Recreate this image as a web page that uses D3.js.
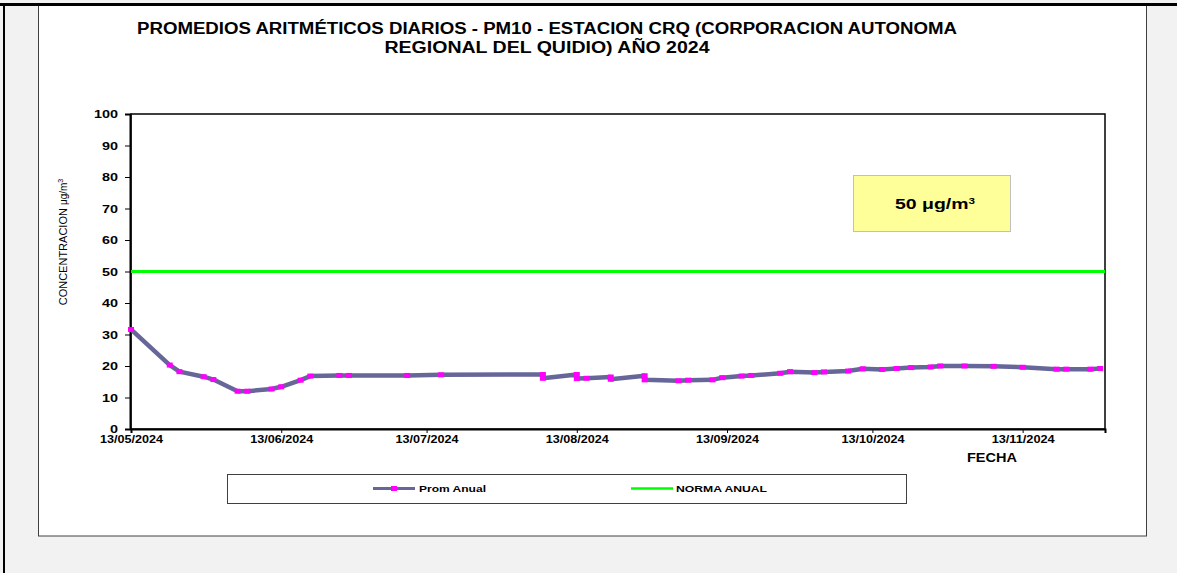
<!DOCTYPE html>
<html>
<head>
<meta charset="utf-8">
<script src="https://cdn.jsdelivr.net/npm/d3@7"></script>
<style>
  html, body { margin: 0; padding: 0; background: #f2f2f2; }
  svg { display: block; }
  text { font-family: "Liberation Sans", Arial, sans-serif; }
</style>
</head>
<body>
<svg id="chart" width="1177" height="573"></svg>
<script>
// ---------------- DATA ----------------
const titleLines = [
  "PROMEDIOS ARITMÉTICOS DIARIOS - PM10 -  ESTACION CRQ (CORPORACION AUTONOMA",
  "REGIONAL DEL QUIDIO) AÑO 2024"
];
const sampleDates = [
  "2024-05-13","2024-05-21","2024-05-23","2024-05-28","2024-05-30",
  "2024-06-04","2024-06-06","2024-06-11","2024-06-13","2024-06-17",
  "2024-06-19","2024-06-25","2024-06-27","2024-07-09","2024-07-16",
  "2024-08-06","2024-08-06","2024-08-13","2024-08-13","2024-08-15",
  "2024-08-20","2024-08-20","2024-08-27","2024-08-27","2024-09-03",
  "2024-09-05","2024-09-10","2024-09-12","2024-09-16","2024-09-18",
  "2024-09-24","2024-09-26","2024-10-01","2024-10-03","2024-10-08",
  "2024-10-11","2024-10-15","2024-10-18","2024-10-21","2024-10-25",
  "2024-10-27","2024-11-01","2024-11-07","2024-11-13","2024-11-20",
  "2024-11-22","2024-11-27","2024-11-29"
];
const promAnual = [
  31.6, 20.3, 18.2, 16.6, 15.7,
  12.0, 12.0, 12.7, 13.4, 15.5,
  16.8, 17.0, 17.0, 17.0, 17.2,
  17.3, 16.1, 17.3, 16.0, 16.1,
  16.5, 15.8, 16.9, 15.6, 15.3,
  15.5, 15.6, 16.3, 16.8, 17.0,
  17.7, 18.2, 17.9, 18.1, 18.4,
  19.1, 18.9, 19.2, 19.5, 19.7,
  20.0, 20.0, 19.9, 19.6, 19.0,
  19.0, 19.0, 19.2
];
const normaAnual = 50;
const xDomain = ["2024-05-13", "2024-11-30"];
const xTickDates = ["2024-05-13","2024-06-13","2024-07-13","2024-08-13","2024-09-13","2024-10-13","2024-11-13"];
const yTicks = [0,10,20,30,40,50,60,70,80,90,100];
const seriesNames = ["Prom Anual", "NORMA ANUAL"];
const xAxisTitle = "FECHA";
const yAxisTitle = "CONCENTRACION ";
const normaBoxText = "50 ";

// ---------------- DRAW ----------------
const parse = d3.timeParse("%Y-%m-%d");
const fmt = d3.timeFormat("%d/%m/%Y");
const svg = d3.select("#chart");

function stretch(sel, w) {
  sel.attr("textLength", w).attr("lengthAdjust", "spacingAndGlyphs");
}

// page frame
svg.append("rect").attr("x", 0).attr("y", 0).attr("width", 1177).attr("height", 573).attr("fill", "#f2f2f2");
svg.append("rect").attr("x", 38.5).attr("y", 5.5).attr("width", 1108).attr("height", 530.5)
  .attr("fill", "#ffffff").attr("stroke", "#404040").attr("stroke-width", 1);
svg.append("rect").attr("x", 0).attr("y", 3).attr("width", 1177).attr("height", 3).attr("fill", "#000");
svg.append("rect").attr("x", 3).attr("y", 3).attr("width", 2).attr("height", 570).attr("fill", "#000");

// title
const t1 = svg.append("text").attr("x", 137).attr("y", 34)
  .style("font-family", "'Liberation Sans Narrow','Arial Narrow','Liberation Sans',Arial,sans-serif")
  .style("font-weight", "bold").style("font-size", "16px").attr("fill", "#000").text(titleLines[0]);
stretch(t1, 820);
const t2 = svg.append("text").attr("x", 547).attr("y", 53).attr("text-anchor", "middle")
  .style("font-family", "'Liberation Sans Narrow','Arial Narrow','Liberation Sans',Arial,sans-serif")
  .style("font-weight", "bold").style("font-size", "16px").attr("fill", "#000").text(titleLines[1]);
stretch(t2, 325);

// scales
const x = d3.scaleTime().domain(xDomain.map(parse)).range([131, 1105]);
const y = d3.scaleLinear().domain([0, 100]).range([429, 114]);

// plot frame
svg.append("rect").attr("x", 131).attr("y", 114).attr("width", 974).attr("height", 315)
  .attr("fill", "#fff").attr("stroke", "#000").attr("stroke-width", 1.5);

// y axis
const yAxis = svg.append("g").attr("transform", "translate(130,0)")
  .call(d3.axisLeft(y).tickValues(yTicks).tickSize(5).tickPadding(7).tickFormat(d3.format("d")));
yAxis.select(".domain").attr("stroke", "#000").attr("stroke-width", 2);
yAxis.selectAll(".tick line").attr("stroke", "#000").attr("stroke-width", 1);
yAxis.selectAll(".tick text").attr("fill", "#000")
  .style("font-size", "11px").style("font-weight", "bold")
  .each(function(d) { stretch(d3.select(this), String(d).length * 8); });

// x axis
const xAxis = svg.append("g").attr("transform", "translate(0,429)")
  .call(d3.axisBottom(x).tickValues(xTickDates.map(parse)).tickSize(4).tickPadding(2).tickFormat(fmt));
xAxis.select(".domain").attr("stroke", "#000").attr("stroke-width", 2);
xAxis.selectAll(".tick line").attr("stroke", "#000");
xAxis.selectAll(".tick text").attr("fill", "#000")
  .style("font-size", "11px").style("font-weight", "bold")
  .each(function() { stretch(d3.select(this), 63); });

// axis titles
const yt = svg.append("text").attr("transform", "translate(67,242) rotate(-90)")
  .attr("text-anchor", "middle").style("font-size", "11px").attr("fill", "#000");
yt.append("tspan").text(yAxisTitle);
yt.append("tspan").style("font-size", "10px").text("μg/m");
yt.append("tspan").style("font-size", "7px").attr("dy", -4).text("3");

const xt = svg.append("text").attr("x", 992).attr("y", 462).attr("text-anchor", "middle")
  .style("font-size", "12px").style("font-weight", "bold").attr("fill", "#000").text(xAxisTitle);
stretch(xt, 50);

// norma box
svg.append("rect").attr("x", 853.5).attr("y", 175.5).attr("width", 157).attr("height", 56)
  .attr("fill", "#ffff99").attr("stroke", "#c0c0c0").attr("stroke-width", 1);
const bt = svg.append("text").attr("x", 895).attr("y", 209)
  .style("font-size", "15px").style("font-weight", "bold").attr("fill", "#000");
bt.append("tspan").text(normaBoxText);
bt.append("tspan").text("μg/m");
bt.append("tspan").style("font-size", "9px").attr("dy", -5).text("3");
stretch(bt, 80);

// norma line
svg.append("line").attr("x1", x.range()[0]).attr("x2", x.range()[1])
  .attr("y1", y(normaAnual)).attr("y2", y(normaAnual))
  .attr("stroke", "#00ff00").attr("stroke-width", 3);

// series line
const pts = sampleDates.map((d, i) => ({ date: parse(d), v: promAnual[i] }));
const line = d3.line().x(d => x(d.date)).y(d => y(d.v));
svg.append("path").datum(pts).attr("d", line)
  .attr("fill", "none").attr("stroke", "#666699").attr("stroke-width", 4.5)
  .attr("stroke-linejoin", "round");
svg.append("g").selectAll("rect").data(pts).join("rect")
  .attr("x", d => x(d.date) - 3).attr("y", d => y(d.v) - 2.5)
  .attr("width", 6).attr("height", 5).attr("fill", "#ff00ff");

// legend
svg.append("rect").attr("x", 227.5).attr("y", 474.5).attr("width", 679).attr("height", 29)
  .attr("fill", "#fff").attr("stroke", "#404040").attr("stroke-width", 1);
svg.append("line").attr("x1", 373).attr("x2", 415).attr("y1", 488.5).attr("y2", 488.5)
  .attr("stroke", "#666699").attr("stroke-width", 3);
svg.append("rect").attr("x", 391).attr("y", 486).attr("width", 6).attr("height", 5).attr("fill", "#ff00ff");
const l1 = svg.append("text").attr("x", 419).attr("y", 492)
  .style("font-size", "9px").style("font-weight", "bold").attr("fill", "#000").text(seriesNames[0]);
stretch(l1, 67);
svg.append("line").attr("x1", 631).attr("x2", 673).attr("y1", 488.5).attr("y2", 488.5)
  .attr("stroke", "#00ff00").attr("stroke-width", 2.5);
const l2 = svg.append("text").attr("x", 676).attr("y", 492)
  .style("font-size", "9px").style("font-weight", "bold").attr("fill", "#000").text(seriesNames[1]);
stretch(l2, 91);
</script>
</body>
</html>
